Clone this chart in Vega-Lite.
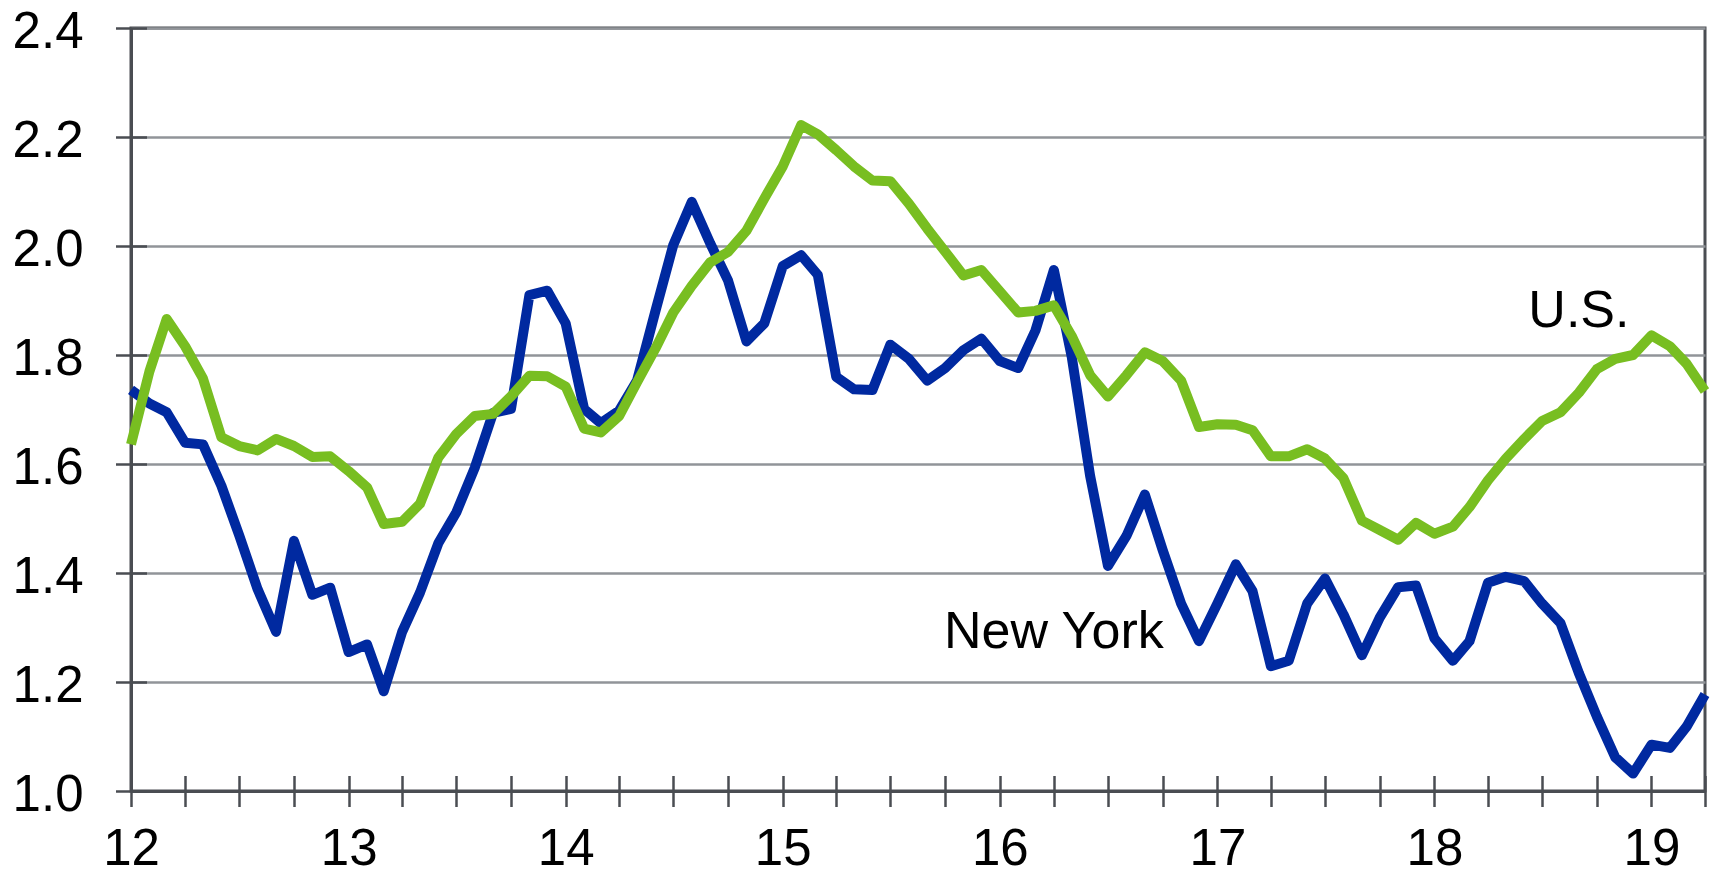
{
  "$schema": "https://vega.github.io/schema/vega-lite/v6.json",
  "width": 1574,
  "height": 763,
  "autosize": {"type": "none"},
  "padding": {"left": 131, "top": 28, "right": 6, "bottom": 85},
  "background": "white",
  "config": {
    "font": "Liberation Sans",
    "view": {"stroke": "#4a4d52", "strokeWidth": 3},
    "axis": {"title": null, "labelFont": "Liberation Sans", "labelColor": "#000000", "labelFlush": false, "labelOverlap": false, "labelBound": false}
  },
  "datasets": {
    "series": [
      {"date": "2012-01-01", "NY": 1.736, "US": 1.636},
      {"date": "2012-02-01", "NY": 1.711, "US": 1.770},
      {"date": "2012-03-01", "NY": 1.695, "US": 1.866},
      {"date": "2012-04-01", "NY": 1.639, "US": 1.816},
      {"date": "2012-05-01", "NY": 1.636, "US": 1.757},
      {"date": "2012-06-01", "NY": 1.560, "US": 1.649},
      {"date": "2012-07-01", "NY": 1.469, "US": 1.633},
      {"date": "2012-08-01", "NY": 1.370, "US": 1.625},
      {"date": "2012-09-01", "NY": 1.292, "US": 1.646},
      {"date": "2012-10-01", "NY": 1.459, "US": 1.633},
      {"date": "2012-11-01", "NY": 1.360, "US": 1.613},
      {"date": "2012-12-01", "NY": 1.373, "US": 1.614},
      {"date": "2013-01-01", "NY": 1.255, "US": 1.587},
      {"date": "2013-02-01", "NY": 1.269, "US": 1.557},
      {"date": "2013-03-01", "NY": 1.183, "US": 1.490},
      {"date": "2013-04-01", "NY": 1.292, "US": 1.494},
      {"date": "2013-05-01", "NY": 1.364, "US": 1.527},
      {"date": "2013-06-01", "NY": 1.455, "US": 1.612},
      {"date": "2013-07-01", "NY": 1.511, "US": 1.655},
      {"date": "2013-08-01", "NY": 1.593, "US": 1.688},
      {"date": "2013-09-01", "NY": 1.694, "US": 1.692},
      {"date": "2013-10-01", "NY": 1.701, "US": 1.724},
      {"date": "2013-11-01", "NY": 1.910, "US": 1.762},
      {"date": "2013-12-01", "NY": 1.918, "US": 1.761},
      {"date": "2014-01-01", "NY": 1.858, "US": 1.742},
      {"date": "2014-02-01", "NY": 1.701, "US": 1.665},
      {"date": "2014-03-01", "NY": 1.675, "US": 1.658},
      {"date": "2014-04-01", "NY": 1.698, "US": 1.688},
      {"date": "2014-05-01", "NY": 1.753, "US": 1.750},
      {"date": "2014-06-01", "NY": 1.881, "US": 1.812},
      {"date": "2014-07-01", "NY": 2.002, "US": 1.878},
      {"date": "2014-08-01", "NY": 2.081, "US": 1.927},
      {"date": "2014-09-01", "NY": 2.005, "US": 1.970},
      {"date": "2014-10-01", "NY": 1.937, "US": 1.989},
      {"date": "2014-11-01", "NY": 1.825, "US": 2.028},
      {"date": "2014-12-01", "NY": 1.858, "US": 2.087},
      {"date": "2015-01-01", "NY": 1.963, "US": 2.146},
      {"date": "2015-02-01", "NY": 1.983, "US": 2.222},
      {"date": "2015-03-01", "NY": 1.947, "US": 2.205},
      {"date": "2015-04-01", "NY": 1.760, "US": 2.176},
      {"date": "2015-05-01", "NY": 1.737, "US": 2.146},
      {"date": "2015-06-01", "NY": 1.736, "US": 2.120},
      {"date": "2015-07-01", "NY": 1.819, "US": 2.119},
      {"date": "2015-08-01", "NY": 1.793, "US": 2.078},
      {"date": "2015-09-01", "NY": 1.753, "US": 2.032},
      {"date": "2015-10-01", "NY": 1.776, "US": 1.990},
      {"date": "2015-11-01", "NY": 1.809, "US": 1.946},
      {"date": "2015-12-01", "NY": 1.830, "US": 1.956},
      {"date": "2016-01-01", "NY": 1.789, "US": 1.917},
      {"date": "2016-02-01", "NY": 1.776, "US": 1.878},
      {"date": "2016-03-01", "NY": 1.845, "US": 1.881},
      {"date": "2016-04-01", "NY": 1.956, "US": 1.891},
      {"date": "2016-05-01", "NY": 1.797, "US": 1.835},
      {"date": "2016-06-01", "NY": 1.578, "US": 1.763},
      {"date": "2016-07-01", "NY": 1.413, "US": 1.724},
      {"date": "2016-08-01", "NY": 1.468, "US": 1.763},
      {"date": "2016-09-01", "NY": 1.544, "US": 1.805},
      {"date": "2016-10-01", "NY": 1.442, "US": 1.789},
      {"date": "2016-11-01", "NY": 1.344, "US": 1.753},
      {"date": "2016-12-01", "NY": 1.275, "US": 1.668},
      {"date": "2017-01-01", "NY": 1.344, "US": 1.673},
      {"date": "2017-02-01", "NY": 1.416, "US": 1.672},
      {"date": "2017-03-01", "NY": 1.367, "US": 1.662},
      {"date": "2017-04-01", "NY": 1.229, "US": 1.614},
      {"date": "2017-05-01", "NY": 1.239, "US": 1.614},
      {"date": "2017-06-01", "NY": 1.344, "US": 1.627},
      {"date": "2017-07-01", "NY": 1.390, "US": 1.610},
      {"date": "2017-08-01", "NY": 1.324, "US": 1.574},
      {"date": "2017-09-01", "NY": 1.249, "US": 1.496},
      {"date": "2017-10-01", "NY": 1.318, "US": 1.479},
      {"date": "2017-11-01", "NY": 1.374, "US": 1.461},
      {"date": "2017-12-01", "NY": 1.377, "US": 1.492},
      {"date": "2018-01-01", "NY": 1.280, "US": 1.472},
      {"date": "2018-02-01", "NY": 1.239, "US": 1.485},
      {"date": "2018-03-01", "NY": 1.275, "US": 1.521},
      {"date": "2018-04-01", "NY": 1.382, "US": 1.570},
      {"date": "2018-05-01", "NY": 1.393, "US": 1.610},
      {"date": "2018-06-01", "NY": 1.385, "US": 1.646},
      {"date": "2018-07-01", "NY": 1.344, "US": 1.679},
      {"date": "2018-08-01", "NY": 1.308, "US": 1.695},
      {"date": "2018-09-01", "NY": 1.216, "US": 1.731},
      {"date": "2018-10-01", "NY": 1.137, "US": 1.774},
      {"date": "2018-11-01", "NY": 1.062, "US": 1.793},
      {"date": "2018-12-01", "NY": 1.032, "US": 1.800},
      {"date": "2019-01-01", "NY": 1.085, "US": 1.836},
      {"date": "2019-02-01", "NY": 1.079, "US": 1.816},
      {"date": "2019-03-01", "NY": 1.118, "US": 1.784},
      {"date": "2019-04-01", "NY": 1.177, "US": 1.734}
    ],
    "labels": [
      {"date": "2018-09-01", "value": 1.852, "label": "U.S."},
      {"date": "2016-04-01", "value": 1.262, "label": "New York"}
    ]
  },
  "resolve": {"axis": {"x": "independent", "y": "independent"}},
  "layer": [
    {
      "data": {"name": "series"},
      "transform": [{"fold": ["NY", "US"], "as": ["series", "value"]}],
      "mark": {"type": "line", "strokeWidth": 10, "strokeJoin": "round"},
      "encoding": {
        "x": {
          "field": "date", "type": "temporal",
          "scale": {"type": "utc", "domain": [{"year": 2012, "month": 1, "date": 1, "utc": true}, {"year": 2019, "month": 4, "date": 1, "utc": true}]},
          "axis": {
            "orient": "bottom", "tickCount": {"interval": "year", "step": 1},
            "labelExpr": "utcFormat(datum.value, '%y')",
            "ticks": false, "grid": false, "domain": true,
            "domainColor": "#4a4d52", "domainWidth": 3,
            "labelPadding": 33, "labelFontSize": 51
          }
        },
        "y": {
          "field": "value", "type": "quantitative",
          "scale": {"domain": [1.0, 2.4], "nice": false, "zero": false},
          "axis": {
            "orient": "left", "values": [1.0, 1.2, 1.4, 1.6, 1.8, 2.0, 2.2, 2.4], "format": ".1f",
            "ticks": false, "grid": true, "gridColor": "#919499", "gridWidth": 2.5,
            "domain": true, "domainColor": "#4a4d52", "domainWidth": 3,
            "labelPadding": 48, "labelFontSize": 51, "labelOffset": 4
          }
        },
        "color": {
          "field": "series", "type": "nominal",
          "scale": {"domain": ["NY", "US"], "range": ["#0029a0", "#78be21"]},
          "legend": null
        }
      }
    },
    {
      "data": {"name": "labels"},
      "mark": {"type": "text", "font": "Liberation Sans", "fontSize": 52, "align": "center", "baseline": "alphabetic", "color": "#000000"},
      "encoding": {
        "x": {
          "field": "date", "type": "temporal",
          "axis": {
            "orient": "bottom", "tickCount": {"interval": "month", "step": 3},
            "labels": false, "domain": false, "grid": false, "ticks": true,
            "tickSize": 31, "offset": -15.5, "tickColor": "#4a4d52", "tickWidth": 2.5
          }
        },
        "y": {
          "field": "value", "type": "quantitative",
          "axis": {
            "orient": "left", "values": [1.0, 1.2, 1.4, 1.6, 1.8, 2.0, 2.2, 2.4],
            "labels": false, "domain": false, "grid": false, "ticks": true,
            "tickSize": 31, "offset": -15.5, "tickColor": "#4a4d52", "tickWidth": 2.5
          }
        },
        "text": {"field": "label"}
      }
    }
  ]
}
